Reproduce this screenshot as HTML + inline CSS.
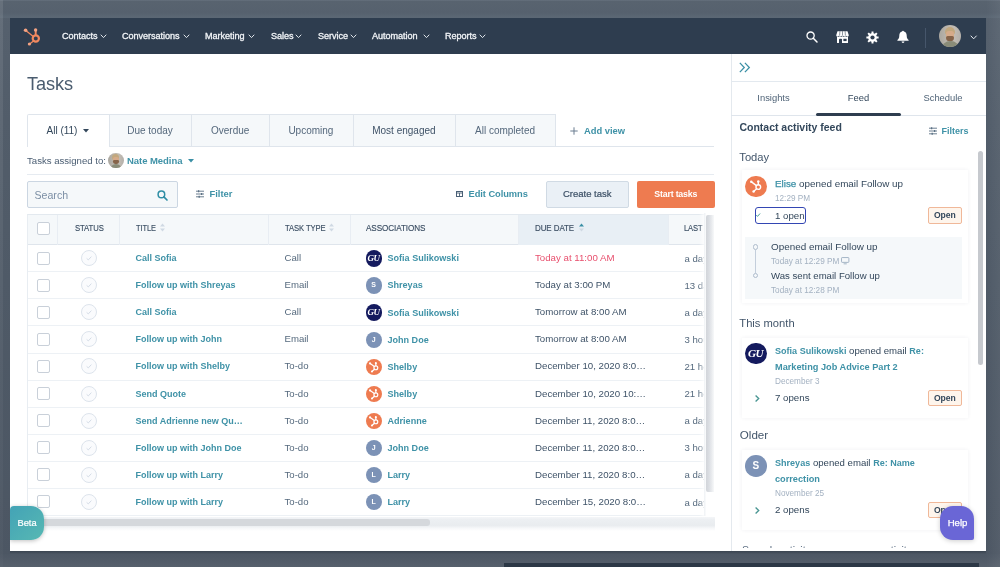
<!DOCTYPE html>
<html>
<head>
<meta charset="utf-8">
<title>Tasks</title>
<style>
*{box-sizing:border-box;margin:0;padding:0}
html,body{width:1000px;height:567px;overflow:hidden}
body{font-family:"Liberation Sans",sans-serif;background:#535e6b;position:relative;color:#33475b;font-size:9.6px}
.t{position:absolute;white-space:nowrap;line-height:14px;height:14px}
.b{font-weight:bold;font-size:9.05px}
.teal{color:#3f92a7}
.gray{color:#a3b1c1}
.sm{font-size:8.2px}
#frame{position:absolute;left:0;top:0;width:1000px;height:567px;background:linear-gradient(180deg,#56616e 0,#525d6a 120px,#4f5a67 280px,#4c5663 567px)}
#rband{position:absolute;left:986px;top:0;width:14px;height:567px;background:linear-gradient(90deg,rgba(255,255,255,0),rgba(255,255,255,.05))}
#topband{position:absolute;left:0;top:0;width:1000px;height:18px;background:linear-gradient(180deg,#66717e 0,#58636f 1.5px,#56616e 13px,#5b6774 17px,#5b6774 18px)}
#botband{position:absolute;left:10px;top:550px;width:976px;height:4px;background:linear-gradient(180deg,#3d4753 0,#3d4753 1.6px,rgba(61,71,83,0) 4px)}
#botband2{position:absolute;left:0;top:553px;width:1000px;height:14px;background:linear-gradient(180deg,rgba(255,255,255,0),rgba(255,255,255,.06))}
#leftstrip{position:absolute;left:0;top:0;width:3.4px;height:567px;background:linear-gradient(180deg,rgba(255,255,255,.09),rgba(255,255,255,.05) 300px,rgba(255,255,255,.02))}
#rightstrip{position:absolute;left:993px;top:0;width:7px;height:567px;background:#525d6a}
#botstrip{position:absolute;left:504.3px;top:562.7px;width:474.5px;height:5px;background:#2c3846}
#app{filter:blur(.45px);position:absolute;left:10px;top:17.5px;width:975.5px;height:533.7px;background:#fff;overflow:hidden}
#nav{position:absolute;left:0;top:0;width:100%;height:36px;background:#2e3d4f}
.nv{color:#f2f5f8;font-size:9.1px;-webkit-text-stroke:.3px #f2f5f8;letter-spacing:-0.05px}
svg{position:absolute;overflow:visible}
.box{position:absolute}
.cb{position:absolute;width:13px;height:13px;border:1px solid #c9d0d9;border-radius:2px;background:#fff}
.st{position:absolute;width:16px;height:16px;border:1px solid #dde4ec;border-radius:50%;background:#fafbfd}
.av{position:absolute;width:16.4px;height:16.4px;border-radius:50%;color:#fff;font-size:7px;font-weight:bold;text-align:center;line-height:16.4px}
.openbtn{position:absolute;width:33.8px;height:16.2px;border:1px solid #f0b899;background:#fef5ec;border-radius:2px;font-size:8.6px;font-weight:bold;text-align:center;line-height:14.8px;color:#33475b}
.card{position:absolute;background:#fff;box-shadow:0 0 4px rgba(45,62,80,.07)}
</style>
</head>
<body>
<div id="frame"></div>
<div id="topband"></div>
<div id="botband"></div>
<div id="botband2"></div>
<div id="rband"></div>
<div id="leftstrip"></div>
<div id="botstrip"></div>
<div id="app">

<div id="nav"></div>
<svg style="left:14px;top:10.0px" width="17" height="18" viewBox="0 0 17 18">
<g fill="none" stroke="#f2895f" stroke-linecap="round">
<circle cx="11.8" cy="10.5" r="3.1" stroke-width="2.2"/>
<path d="M11.7 7V2.2" stroke-width="1.9"/><path d="M9.3 8.4L1.8 2.5" stroke-width="1.3"/><path d="M9.5 12.9L5.6 15.9" stroke-width="1.3"/>
</g>
<g fill="#f4a383"><circle cx="11.6" cy="2" r="1.7"/><circle cx="1.6" cy="2.3" r="1.8"/><circle cx="5.4" cy="16" r="1.6"/></g>
</svg>
<div class="t nv" style="left:52px;top:11.3px;">Contacts</div>
<svg style="left:90.5px;top:17.8px" width="5" height="2.6" viewBox="0 0 5 2.6"><path d="M0 0L2.5 2.6L5 0" fill="none" stroke="#e8edf2" stroke-width="0.95" stroke-linecap="round" stroke-linejoin="round"/></svg>
<div class="t nv" style="left:112px;top:11.3px;">Conversations</div>
<svg style="left:173.5px;top:17.8px" width="5" height="2.6" viewBox="0 0 5 2.6"><path d="M0 0L2.5 2.6L5 0" fill="none" stroke="#e8edf2" stroke-width="0.95" stroke-linecap="round" stroke-linejoin="round"/></svg>
<div class="t nv" style="left:195px;top:11.3px;">Marketing</div>
<svg style="left:239.0px;top:17.8px" width="5" height="2.6" viewBox="0 0 5 2.6"><path d="M0 0L2.5 2.6L5 0" fill="none" stroke="#e8edf2" stroke-width="0.95" stroke-linecap="round" stroke-linejoin="round"/></svg>
<div class="t nv" style="left:261px;top:11.3px;">Sales</div>
<svg style="left:286.0px;top:17.8px" width="5" height="2.6" viewBox="0 0 5 2.6"><path d="M0 0L2.5 2.6L5 0" fill="none" stroke="#e8edf2" stroke-width="0.95" stroke-linecap="round" stroke-linejoin="round"/></svg>
<div class="t nv" style="left:308px;top:11.3px;">Service</div>
<svg style="left:340.5px;top:17.8px" width="5" height="2.6" viewBox="0 0 5 2.6"><path d="M0 0L2.5 2.6L5 0" fill="none" stroke="#e8edf2" stroke-width="0.95" stroke-linecap="round" stroke-linejoin="round"/></svg>
<div class="t nv" style="left:362px;top:11.3px;">Automation</div>
<svg style="left:413.5px;top:17.8px" width="5" height="2.6" viewBox="0 0 5 2.6"><path d="M0 0L2.5 2.6L5 0" fill="none" stroke="#e8edf2" stroke-width="0.95" stroke-linecap="round" stroke-linejoin="round"/></svg>
<div class="t nv" style="left:435px;top:11.3px;">Reports</div>
<svg style="left:470.0px;top:17.8px" width="5" height="2.6" viewBox="0 0 5 2.6"><path d="M0 0L2.5 2.6L5 0" fill="none" stroke="#e8edf2" stroke-width="0.95" stroke-linecap="round" stroke-linejoin="round"/></svg>
<svg style="left:796px;top:13.6px" width="12" height="12" viewBox="0 0 12 12"><circle cx="4.6" cy="4.6" r="3.6" fill="none" stroke="#fff" stroke-width="1.3"/><path d="M7.3 7.3L11 11" stroke="#fff" stroke-width="1.5" stroke-linecap="round"/></svg>
<svg style="left:826px;top:13.5px" width="13" height="12.2" viewBox="0 0 13 12.2"><path d="M1.5 0.2H11.5L12.8 4.2Q12.8 5.7 11.5 5.7Q10.3 5.7 10.3 4.5Q10.3 5.7 9 5.7Q7.8 5.7 7.8 4.5Q7.8 5.7 6.5 5.7Q5.2 5.7 5.2 4.5Q5.2 5.7 4 5.7Q2.7 5.7 2.7 4.5Q2.7 5.7 1.5 5.7Q0.2 5.7 0.2 4.2Z" fill="#fff"/><rect x="1" y="6" width="11" height="6" fill="#fff"/><path d="M3 12.2V8.6Q3 7.8 3.8 7.8H5.2Q6 7.8 6 8.6V12.2Z" fill="#2e3d4f"/><rect x="7.4" y="7.8" width="3.2" height="2.3" fill="#2e3d4f"/><path d="M3.9 0.2L3.6 4.6M6.5 0.2V4.6M9.1 .2L9.4 4.6" stroke="#2e3d4f" stroke-width=".55"/></svg>
<svg style="left:856.3px;top:13.5px" width="13" height="13" viewBox="0 0 13 13"><path d="M12.62 5.53L12.62 7.47L10.78 7.53L10.25 8.80L11.52 10.14L10.14 11.52L8.80 10.25L7.53 10.78L7.47 12.62L5.53 12.62L5.47 10.78L4.20 10.25L2.86 11.52L1.48 10.14L2.75 8.80L2.22 7.53L0.38 7.47L0.38 5.53L2.22 5.47L2.75 4.20L1.48 2.86L2.86 1.48L4.20 2.75L5.47 2.22L5.53 0.38L7.47 0.38L7.53 2.22L8.80 2.75L10.14 1.48L11.52 2.86L10.25 4.20L10.78 5.47Z" fill="#fff"/><circle cx="6.5" cy="6.5" r="2.1" fill="#2e3d4f"/></svg>
<svg style="left:887.3px;top:12.5px" width="12" height="13.8" viewBox="0 0 12 13"><path d="M6 0.3C6.6 0.3 6.9 .7 6.9 1.2C8.9 1.7 9.7 3.3 9.7 5.2C9.7 7.8 10.4 8.6 11.6 9.6V10.4H0.4V9.6C1.6 8.6 2.3 7.8 2.3 5.2C2.3 3.3 3.1 1.7 5.1 1.2C5.1 .7 5.4 .3 6 .3Z" fill="#fff"/><path d="M4.6 11.2H7.4C7.4 12 6.8 12.6 6 12.6C5.2 12.6 4.6 12 4.6 11.2Z" fill="#fff"/></svg>
<div class="box" style="left:915px;top:10.0px;width:1px;height:20px;background:#46566b"></div>
<div class="box" style="left:929px;top:7.3px;width:22.2px;height:22.2px;border-radius:50%;overflow:hidden;background:linear-gradient(90deg,#a9a69f,#bdb7ae 40%,#c2bcb4 70%,#b4b0aa)"><div style="position:absolute;left:5.5px;top:2.2px;width:10.5px;height:8px;border-radius:5px 5px 3px 3px;background:#c2a87e"></div><div style="position:absolute;left:6.6px;top:6px;width:8.6px;height:9px;border-radius:3px 3px 4.5px 4.5px;background:#d6ab8a"></div><div style="position:absolute;left:7.2px;top:11px;width:7.6px;height:5.2px;border-radius:2px 2px 4px 4px;background:#86644a"></div><div style="position:absolute;left:2.5px;top:16.4px;width:17px;height:8px;border-radius:8px 8px 0 0;background:#8a8c78"></div></div>
<svg style="left:961.15px;top:18.5px" width="5.3" height="2.8" viewBox="0 0 5.3 2.8"><path d="M0 0L2.65 2.8L5.3 0" fill="none" stroke="#e8edf2" stroke-width="1.0" stroke-linecap="round" stroke-linejoin="round"/></svg>
<div class="t " style="left:17px;top:53.5px;font-size:18.2px;line-height:26px;height:26px;color:#4a5c6f;letter-spacing:-0.1px">Tasks</div>
<div class="box" style="left:17px;top:128.9px;width:687px;height:1px;background:#dfe5ec"></div>
<div class="box" style="left:17.3px;top:96.3px;width:82.3px;height:33.6px;background:#fff;border:1px solid #dfe5ec;border-bottom:none;border-radius:2px 0 0 0"></div>
<div class="t " style="left:36.5px;top:106.4px;color:#33475b;font-size:10px">All (11)</div>
<svg style="left:73px;top:111.1px" width="6" height="3.5" viewBox="0 0 6 3.5"><path d="M0 0H6L3 3.5Z" fill="#33475b"/></svg>
<div class="box" style="left:98.6px;top:96.3px;width:83.8px;height:32.8px;background:#f5f8fa;border:1px solid #dfe5ec;border-radius:0"></div>
<div class="t" style="left:98.6px;top:106.4px;width:82.8px;text-align:center;color:#55687c;font-size:10px">Due today</div>
<div class="box" style="left:181.4px;top:96.3px;width:78.6px;height:32.8px;background:#f5f8fa;border:1px solid #dfe5ec;border-radius:0"></div>
<div class="t" style="left:181.4px;top:106.4px;width:77.6px;text-align:center;color:#55687c;font-size:10px">Overdue</div>
<div class="box" style="left:259px;top:96.3px;width:84.8px;height:32.8px;background:#f5f8fa;border:1px solid #dfe5ec;border-radius:0"></div>
<div class="t" style="left:259px;top:106.4px;width:83.8px;text-align:center;color:#55687c;font-size:10px">Upcoming</div>
<div class="box" style="left:342.8px;top:96.3px;width:103.2px;height:32.8px;background:#f5f8fa;border:1px solid #dfe5ec;border-radius:0"></div>
<div class="t" style="left:342.8px;top:106.4px;width:102.2px;text-align:center;color:#3f5267;font-size:10px">Most engaged</div>
<div class="box" style="left:445px;top:96.3px;width:101px;height:32.8px;background:#f5f8fa;border:1px solid #dfe5ec;border-radius:0"></div>
<div class="t" style="left:445px;top:106.4px;width:100px;text-align:center;color:#55687c;font-size:10px">All completed</div>
<svg style="left:560px;top:109.0px" width="8" height="8" viewBox="0 0 8 8"><path d="M4 0.3V7.7M0.3 4H7.7" stroke="#6a7c90" stroke-width="1" fill="none"/></svg>
<div class="t b teal" style="left:574px;top:106.2px;font-size:9.35px">Add view</div>
<div class="t " style="left:17px;top:136.0px;color:#4a5d72">Tasks assigned to:</div>
<div class="box" style="left:98.3px;top:135.3px;width:15.4px;height:15.4px;border-radius:50%;overflow:hidden;background:linear-gradient(90deg,#a9a69f,#bdb7ae 40%,#c2bcb4 70%,#b4b0aa)"><div style="position:absolute;left:3.8px;top:1.5px;width:7.3px;height:5.5px;border-radius:3.5px 3.5px 2px 2px;background:#c2a87e"></div><div style="position:absolute;left:4.6px;top:4.2px;width:6px;height:6.2px;border-radius:2px 2px 3px 3px;background:#d6ab8a"></div><div style="position:absolute;left:5px;top:7.6px;width:5.3px;height:3.6px;border-radius:1.5px 1.5px 3px 3px;background:#86644a"></div><div style="position:absolute;left:1.7px;top:11.4px;width:12px;height:6px;border-radius:6px 6px 0 0;background:#8a8c78"></div></div>
<div class="t b teal" style="left:117px;top:136.0px;font-size:9.5px;letter-spacing:-0.05px">Nate Medina</div>
<svg style="left:177.5px;top:141.8px" width="6" height="3.5" viewBox="0 0 6 3.5"><path d="M0 0H6L3 3.5Z" fill="#3a8fa5"/></svg>
<div class="box" style="left:17px;top:156.5px;width:687px;height:1px;background:#e6ebf1"></div>
<div class="box" style="left:17px;top:163.5px;width:150.8px;height:26.5px;background:#f5f8fa;border:1px solid #cbd6e2;border-radius:2px"></div>
<div class="t " style="left:24.5px;top:170.2px;color:#7c8fa5;font-size:10.6px">Search</div>
<svg style="left:146.5px;top:172.0px" width="11" height="11" viewBox="0 0 11 11"><circle cx="4.4" cy="4.4" r="3.3" fill="none" stroke="#2f8ea5" stroke-width="1.5"/><path d="M6.9 6.9L10 10" stroke="#2f8ea5" stroke-width="1.7" stroke-linecap="round"/></svg>
<svg style="left:185.5px;top:172.5px" width="8" height="8" viewBox="0 0 8 8"><path d="M0 1.2H8M0 4H8M0 6.8H8" stroke="#5b7185" stroke-width=".9"/><path d="M2.6 0.2V2.2M5.6 3V5M3.2 5.8V7.8" stroke="#5b7185" stroke-width="1.3"/></svg>
<div class="t b teal" style="left:199.5px;top:169.5px;font-size:9.4px">Filter</div>
<svg style="left:445.5px;top:173.5px" width="7" height="6" viewBox="0 0 7 6"><rect x=".5" y=".5" width="6" height="5" fill="none" stroke="#4a6076" stroke-width="1"/><path d="M.5 2H6.5M3.5 2V5.5" stroke="#4a6076" stroke-width=".9"/></svg>
<div class="t b teal" style="left:458.5px;top:169.5px;font-size:9.3px;letter-spacing:-0.05px">Edit Columns</div>
<div class="box" style="left:536px;top:163.5px;width:82.5px;height:26.5px;background:#eaf0f6;border:1px solid #d0dae4;border-radius:2px"></div>
<div class="t" style="left:536px;top:169.5px;width:82.5px;text-align:center;color:#3c5066;font-size:9.5px;-webkit-text-stroke:.2px #3c5066">Create task</div>
<div class="box" style="left:627px;top:163.5px;width:77.5px;height:26.5px;background:#ee7b50;border-radius:2px"></div>
<div class="t" style="left:627px;top:169.5px;width:77.5px;text-align:center;color:#fff;font-weight:bold;font-size:8.8px;letter-spacing:-0.2px">Start tasks</div>
<div class="box" style="left:17px;top:196.0px;width:677.5px;height:302.5px;overflow:hidden;border-left:1px solid #e8edf2;border-top:1px solid #e3e9ef">
<div class="box" style="left:0;top:0;width:700px;height:30.5px;background:#f5f8fa;border-bottom:1px solid #dfe5ec"></div>
<div class="box" style="left:490.6px;top:0;width:149.19999999999993px;height:30.0px;background:#e8eff5"></div>
<div class="box" style="left:29px;top:0;width:1px;height:30.0px;background:#e8edf3"></div>
<div class="box" style="left:91px;top:0;width:1px;height:30.0px;background:#e8edf3"></div>
<div class="box" style="left:239.5px;top:0;width:1px;height:30.0px;background:#e8edf3"></div>
<div class="box" style="left:321.5px;top:0;width:1px;height:30.0px;background:#e8edf3"></div>
<div class="box" style="left:490px;top:0;width:1px;height:30.0px;background:#e8edf3"></div>
<div class="box" style="left:640px;top:0;width:1px;height:30.0px;background:#e8edf3"></div>
<div class="t " style="left:46.7px;top:6.3px;font-size:9.2px;color:#3b4e63;letter-spacing:-0.1px;-webkit-text-stroke:.15px #3b4e63;transform:scaleX(0.839);transform-origin:0 50%">STATUS</div>
<div class="t " style="left:107.5px;top:6.3px;font-size:9.2px;color:#3b4e63;letter-spacing:-0.1px;-webkit-text-stroke:.15px #3b4e63;transform:scaleX(0.811);transform-origin:0 50%">TITLE</div>
<div class="t " style="left:256.6px;top:6.3px;font-size:9.2px;color:#3b4e63;letter-spacing:-0.1px;-webkit-text-stroke:.15px #3b4e63;transform:scaleX(0.829);transform-origin:0 50%">TASK TYPE</div>
<div class="t " style="left:337.8px;top:6.3px;font-size:9.2px;color:#3b4e63;letter-spacing:-0.1px;-webkit-text-stroke:.15px #3b4e63;transform:scaleX(0.886);transform-origin:0 50%">ASSOCIATIONS</div>
<div class="t " style="left:507.2px;top:6.3px;font-size:9.2px;color:#3b4e63;letter-spacing:-0.1px;-webkit-text-stroke:.15px #3b4e63;transform:scaleX(0.868);transform-origin:0 50%">DUE DATE</div>
<div class="t " style="left:656.2px;top:6.3px;font-size:9.2px;color:#3b4e63;letter-spacing:-0.1px;-webkit-text-stroke:.15px #3b4e63;transform:scaleX(0.823);transform-origin:0 50%">LAST</div>
<svg style="left:131.5px;top:8.8px" width="5" height="9" viewBox="0 0 5 9"><path d="M0 3.4L2.5 0.4L5 3.4Z" fill="#d0d9e3"/><path d="M0 5.6L2.5 8.6L5 5.6Z" fill="#d0d9e3"/></svg>
<svg style="left:300.6px;top:8.8px" width="5" height="9" viewBox="0 0 5 9"><path d="M0 3.4L2.5 0.4L5 3.4Z" fill="#d0d9e3"/><path d="M0 5.6L2.5 8.6L5 5.6Z" fill="#d0d9e3"/></svg>
<svg style="left:550.5px;top:8.8px" width="5" height="9" viewBox="0 0 5 9"><path d="M0 3.4L2.5 0.4L5 3.4Z" fill="#3a8fa5"/><path d="M0 5.6L2.5 8.6L5 5.6Z" fill="#d0d9e3"/></svg>
<div class="cb" style="left:9px;top:7.5px"></div>
<div class="box" style="left:0;top:56.7px;width:700px;height:1px;background:#edf1f5"></div>
<div class="cb" style="left:9px;top:37.0px"></div>
<div class="st" style="left:52.5px;top:35.5px"><svg style="left:4.2px;top:5px" width="6" height="4.5" viewBox="0 0 6 4.5"><path d="M0.6 2.3L2.3 3.9L5.4 0.6" fill="none" stroke="#cfd8e3" stroke-width=".9"/></svg></div>
<div class="t b teal" style="left:107.5px;top:36.5px;font-size:9.0px">Call Sofia</div>
<div class="t " style="left:256.5px;top:36.5px;color:#566a7e">Call</div>
<div class="av" style="left:337.5px;top:35.7px;background:#141a5e"><span style="font-family:'Liberation Serif',serif;font-style:italic;font-size:9px;letter-spacing:-0.5px;position:relative;left:-0.3px">GU</span></div>
<div class="t b teal" style="left:359.5px;top:36.8px;font-size:9.05px">Sofia Sulikowski</div>
<div class="t " style="left:507px;top:36.5px;color:#e8506e;font-size:9.7px">Today at 11:00 AM</div>
<div class="t " style="left:656.5px;top:37.1px;color:#566a7e">a day</div>
<div class="box" style="left:0;top:83.8px;width:700px;height:1px;background:#edf1f5"></div>
<div class="cb" style="left:9px;top:64.1px"></div>
<div class="st" style="left:52.5px;top:62.6px"><svg style="left:4.2px;top:5px" width="6" height="4.5" viewBox="0 0 6 4.5"><path d="M0.6 2.3L2.3 3.9L5.4 0.6" fill="none" stroke="#cfd8e3" stroke-width=".9"/></svg></div>
<div class="t b teal" style="left:107.5px;top:63.6px;font-size:9.0px">Follow up with Shreyas</div>
<div class="t " style="left:256.5px;top:63.6px;color:#566a7e">Email</div>
<div class="av" style="left:337.5px;top:62.8px;background:#7c92b6">S</div>
<div class="t b teal" style="left:359.5px;top:63.9px;font-size:9.05px">Shreyas</div>
<div class="t " style="left:507px;top:63.6px;color:#3f5368;font-size:9.7px">Today at 3:00 PM</div>
<div class="t " style="left:656.5px;top:64.2px;color:#566a7e">13 days</div>
<div class="box" style="left:0;top:110.9px;width:700px;height:1px;background:#edf1f5"></div>
<div class="cb" style="left:9px;top:91.2px"></div>
<div class="st" style="left:52.5px;top:89.7px"><svg style="left:4.2px;top:5px" width="6" height="4.5" viewBox="0 0 6 4.5"><path d="M0.6 2.3L2.3 3.9L5.4 0.6" fill="none" stroke="#cfd8e3" stroke-width=".9"/></svg></div>
<div class="t b teal" style="left:107.5px;top:90.7px;font-size:9.0px">Call Sofia</div>
<div class="t " style="left:256.5px;top:90.7px;color:#566a7e">Call</div>
<div class="av" style="left:337.5px;top:89.9px;background:#141a5e"><span style="font-family:'Liberation Serif',serif;font-style:italic;font-size:9px;letter-spacing:-0.5px;position:relative;left:-0.3px">GU</span></div>
<div class="t b teal" style="left:359.5px;top:91.0px;font-size:9.05px">Sofia Sulikowski</div>
<div class="t " style="left:507px;top:90.7px;color:#3f5368;font-size:9.7px">Tomorrow at 8:00 AM</div>
<div class="t " style="left:656.5px;top:91.3px;color:#566a7e">a day</div>
<div class="box" style="left:0;top:138.0px;width:700px;height:1px;background:#edf1f5"></div>
<div class="cb" style="left:9px;top:118.3px"></div>
<div class="st" style="left:52.5px;top:116.8px"><svg style="left:4.2px;top:5px" width="6" height="4.5" viewBox="0 0 6 4.5"><path d="M0.6 2.3L2.3 3.9L5.4 0.6" fill="none" stroke="#cfd8e3" stroke-width=".9"/></svg></div>
<div class="t b teal" style="left:107.5px;top:117.8px;font-size:9.0px">Follow up with John</div>
<div class="t " style="left:256.5px;top:117.8px;color:#566a7e">Email</div>
<div class="av" style="left:337.5px;top:117.0px;background:#7c92b6">J</div>
<div class="t b teal" style="left:359.5px;top:118.1px;font-size:9.05px">John Doe</div>
<div class="t " style="left:507px;top:117.8px;color:#3f5368;font-size:9.7px">Tomorrow at 8:00 AM</div>
<div class="t " style="left:656.5px;top:118.4px;color:#566a7e">3 hours</div>
<div class="box" style="left:0;top:165.1px;width:700px;height:1px;background:#edf1f5"></div>
<div class="cb" style="left:9px;top:145.4px"></div>
<div class="st" style="left:52.5px;top:143.9px"><svg style="left:4.2px;top:5px" width="6" height="4.5" viewBox="0 0 6 4.5"><path d="M0.6 2.3L2.3 3.9L5.4 0.6" fill="none" stroke="#cfd8e3" stroke-width=".9"/></svg></div>
<div class="t b teal" style="left:107.5px;top:144.9px;font-size:9.0px">Follow up with Shelby</div>
<div class="t " style="left:256.5px;top:144.9px;color:#566a7e">To-do</div>
<div class="av" style="left:337.5px;top:144.1px;background:#ee7b50"><svg style="left:3.4px;top:3px" width="10.3" height="10.9" viewBox="0 0 17 18"><g fill="none" stroke="#fff" stroke-width="2" stroke-linecap="round"><circle cx="11.3" cy="9.6" r="3.2"/><path d="M11.3 6.3V2.2M8.7 7.6L2 2.6M9 12L5.3 15.4"/></g><g fill="#fff"><circle cx="11.3" cy="1.9" r="1.7"/><circle cx="1.7" cy="2.3" r="1.7"/><circle cx="4.9" cy="15.8" r="1.7"/></g></svg></div>
<div class="t b teal" style="left:359.5px;top:145.2px;font-size:9.05px">Shelby</div>
<div class="t " style="left:507px;top:144.9px;color:#3f5368;font-size:9.7px">December 10, 2020 8:0&hellip;</div>
<div class="t " style="left:656.5px;top:145.5px;color:#566a7e">21 hours</div>
<div class="box" style="left:0;top:192.2px;width:700px;height:1px;background:#edf1f5"></div>
<div class="cb" style="left:9px;top:172.5px"></div>
<div class="st" style="left:52.5px;top:171.0px"><svg style="left:4.2px;top:5px" width="6" height="4.5" viewBox="0 0 6 4.5"><path d="M0.6 2.3L2.3 3.9L5.4 0.6" fill="none" stroke="#cfd8e3" stroke-width=".9"/></svg></div>
<div class="t b teal" style="left:107.5px;top:172.0px;font-size:9.0px">Send Quote</div>
<div class="t " style="left:256.5px;top:172.0px;color:#566a7e">To-do</div>
<div class="av" style="left:337.5px;top:171.2px;background:#ee7b50"><svg style="left:3.4px;top:3px" width="10.3" height="10.9" viewBox="0 0 17 18"><g fill="none" stroke="#fff" stroke-width="2" stroke-linecap="round"><circle cx="11.3" cy="9.6" r="3.2"/><path d="M11.3 6.3V2.2M8.7 7.6L2 2.6M9 12L5.3 15.4"/></g><g fill="#fff"><circle cx="11.3" cy="1.9" r="1.7"/><circle cx="1.7" cy="2.3" r="1.7"/><circle cx="4.9" cy="15.8" r="1.7"/></g></svg></div>
<div class="t b teal" style="left:359.5px;top:172.3px;font-size:9.05px">Shelby</div>
<div class="t " style="left:507px;top:172.0px;color:#3f5368;font-size:9.7px">December 10, 2020 10:&hellip;</div>
<div class="t " style="left:656.5px;top:172.6px;color:#566a7e">21 hours</div>
<div class="box" style="left:0;top:219.3px;width:700px;height:1px;background:#edf1f5"></div>
<div class="cb" style="left:9px;top:199.6px"></div>
<div class="st" style="left:52.5px;top:198.1px"><svg style="left:4.2px;top:5px" width="6" height="4.5" viewBox="0 0 6 4.5"><path d="M0.6 2.3L2.3 3.9L5.4 0.6" fill="none" stroke="#cfd8e3" stroke-width=".9"/></svg></div>
<div class="t b teal" style="left:107.5px;top:199.1px;font-size:9.0px">Send Adrienne new Qu&hellip;</div>
<div class="t " style="left:256.5px;top:199.1px;color:#566a7e">To-do</div>
<div class="av" style="left:337.5px;top:198.3px;background:#ee7b50"><svg style="left:3.4px;top:3px" width="10.3" height="10.9" viewBox="0 0 17 18"><g fill="none" stroke="#fff" stroke-width="2" stroke-linecap="round"><circle cx="11.3" cy="9.6" r="3.2"/><path d="M11.3 6.3V2.2M8.7 7.6L2 2.6M9 12L5.3 15.4"/></g><g fill="#fff"><circle cx="11.3" cy="1.9" r="1.7"/><circle cx="1.7" cy="2.3" r="1.7"/><circle cx="4.9" cy="15.8" r="1.7"/></g></svg></div>
<div class="t b teal" style="left:359.5px;top:199.4px;font-size:9.05px">Adrienne</div>
<div class="t " style="left:507px;top:199.1px;color:#3f5368;font-size:9.7px">December 11, 2020 8:0&hellip;</div>
<div class="t " style="left:656.5px;top:199.7px;color:#566a7e">a day</div>
<div class="box" style="left:0;top:246.4px;width:700px;height:1px;background:#edf1f5"></div>
<div class="cb" style="left:9px;top:226.7px"></div>
<div class="st" style="left:52.5px;top:225.2px"><svg style="left:4.2px;top:5px" width="6" height="4.5" viewBox="0 0 6 4.5"><path d="M0.6 2.3L2.3 3.9L5.4 0.6" fill="none" stroke="#cfd8e3" stroke-width=".9"/></svg></div>
<div class="t b teal" style="left:107.5px;top:226.2px;font-size:9.0px">Follow up with John Doe</div>
<div class="t " style="left:256.5px;top:226.2px;color:#566a7e">To-do</div>
<div class="av" style="left:337.5px;top:225.4px;background:#7c92b6">J</div>
<div class="t b teal" style="left:359.5px;top:226.5px;font-size:9.05px">John Doe</div>
<div class="t " style="left:507px;top:226.2px;color:#3f5368;font-size:9.7px">December 11, 2020 8:0&hellip;</div>
<div class="t " style="left:656.5px;top:226.8px;color:#566a7e">3 hours</div>
<div class="box" style="left:0;top:273.5px;width:700px;height:1px;background:#edf1f5"></div>
<div class="cb" style="left:9px;top:253.8px"></div>
<div class="st" style="left:52.5px;top:252.3px"><svg style="left:4.2px;top:5px" width="6" height="4.5" viewBox="0 0 6 4.5"><path d="M0.6 2.3L2.3 3.9L5.4 0.6" fill="none" stroke="#cfd8e3" stroke-width=".9"/></svg></div>
<div class="t b teal" style="left:107.5px;top:253.3px;font-size:9.0px">Follow up with Larry</div>
<div class="t " style="left:256.5px;top:253.3px;color:#566a7e">To-do</div>
<div class="av" style="left:337.5px;top:252.5px;background:#7c92b6">L</div>
<div class="t b teal" style="left:359.5px;top:253.6px;font-size:9.05px">Larry</div>
<div class="t " style="left:507px;top:253.3px;color:#3f5368;font-size:9.7px">December 11, 2020 8:0&hellip;</div>
<div class="t " style="left:656.5px;top:253.9px;color:#566a7e">a day</div>
<div class="box" style="left:0;top:300.6px;width:700px;height:1px;background:#edf1f5"></div>
<div class="cb" style="left:9px;top:280.9px"></div>
<div class="st" style="left:52.5px;top:279.4px"><svg style="left:4.2px;top:5px" width="6" height="4.5" viewBox="0 0 6 4.5"><path d="M0.6 2.3L2.3 3.9L5.4 0.6" fill="none" stroke="#cfd8e3" stroke-width=".9"/></svg></div>
<div class="t b teal" style="left:107.5px;top:280.4px;font-size:9.0px">Follow up with Larry</div>
<div class="t " style="left:256.5px;top:280.4px;color:#566a7e">To-do</div>
<div class="av" style="left:337.5px;top:279.6px;background:#7c92b6">L</div>
<div class="t b teal" style="left:359.5px;top:280.7px;font-size:9.05px">Larry</div>
<div class="t " style="left:507px;top:280.4px;color:#3f5368;font-size:9.7px">December 15, 2020 8:0&hellip;</div>
<div class="t " style="left:656.5px;top:281.0px;color:#566a7e">a day</div>
</div>
<div class="box" style="left:689px;top:195.5px;width:6px;height:303px;background:linear-gradient(90deg,rgba(255,255,255,0),rgba(255,255,255,.85))"></div>
<div class="box" style="left:694px;top:195.5px;width:10.5px;height:303px;background:linear-gradient(90deg,#eef1f4,#fff 2.5px)"></div>
<div class="box" style="left:696.2px;top:197.0px;width:8px;height:277px;background:linear-gradient(90deg,#d2d5da 0,#dadde2 35%,#e9ebee 70%,#f8f9fa 100%);border-radius:2px 0 0 2px"></div>
<div class="box" style="left:17px;top:499.0px;width:687.5px;height:14px;background:linear-gradient(180deg,#f4f6f8 0,#eceff2 20%,#e9ecef 60%,#f6f7f9 80%,#fff 100%)"></div>
<div class="box" style="left:18px;top:501.8px;width:402px;height:6.5px;background:#d5d8dc;border-radius:3px"></div>
<div class="box" style="left:0px;top:488.7px;width:33.5px;height:33.5px;background:linear-gradient(135deg,#43a3b6,#57b8b3);border-radius:4px 13px 13px 0;box-shadow:0 1px 4px rgba(0,0,0,.25)"></div>
<div class="t" style="left:0px;top:498.8px;width:34px;text-align:center;color:#fff;font-size:9.3px;-webkit-text-stroke:.2px #fff">Beta</div>
<div class="box" style="left:720.6px;top:36.5px;width:1px;height:500px;background:#e4e9ee"></div>
<svg style="left:729.2px;top:44.9px" width="11.6" height="11" viewBox="0 0 11 10"><path d="M0.8 0.6L5 5L0.8 9.4M5.6 0.6L9.8 5L5.6 9.4" fill="none" stroke="#3a8fa5" stroke-width="1.2"/></svg>
<div class="box" style="left:720.6px;top:63.5px;width:260px;height:1px;background:#e3e9ef"></div>
<div class="t" style="left:723.5px;top:73.0px;width:80px;text-align:center;color:#4f6377;font-size:9.4px">Insights</div>
<div class="t" style="left:808.5px;top:73.0px;width:80px;text-align:center;color:#33475b;font-size:9.4px">Feed</div>
<div class="t" style="left:893px;top:73.0px;width:80px;text-align:center;color:#4f6377;font-size:9.4px">Schedule</div>
<div class="box" style="left:720.6px;top:97.1px;width:260px;height:1px;background:#dfe5ec"></div>
<div class="box" style="left:806.3px;top:95.4px;width:84.3px;height:3.3px;background:#2e3d4f;border-radius:1.5px"></div>
<div class="t b" style="left:729.5px;top:102.4px;font-size:10.5px;letter-spacing:-0.02px;color:#33475b">Contact activity feed</div>
<svg style="left:918.5px;top:109.0px" width="8" height="8" viewBox="0 0 8 8"><path d="M0 1.2H8M0 4H8M0 6.8H8" stroke="#5b7185" stroke-width=".9"/><path d="M2.6 0.2V2.2M5.6 3V5M3.2 5.8V7.8" stroke="#5b7185" stroke-width="1.3"/></svg>
<div class="t b teal" style="left:931.5px;top:106.5px;font-size:9px">Filters</div>
<div class="box" style="left:967.8px;top:133.0px;width:5.2px;height:214px;background:#c6c9ce;border-radius:3px"></div>
<div class="t " style="left:729.3px;top:132.0px;font-size:11.2px;color:#43566b">Today</div>
<div class="card" style="left:732px;top:152.5px;width:226px;height:133px"></div>
<div class="av" style="left:735px;top:158.3px;width:21.6px;height:21.6px;background:#ee7b50"><svg style="left:4.8px;top:4.2px" width="12.5" height="13.2" viewBox="0 0 17 18"><g fill="none" stroke="#fff" stroke-width="1.9" stroke-linecap="round"><circle cx="11.3" cy="9.6" r="3.2"/><path d="M11.3 6.3V2.2M8.7 7.6L2 2.6M9 12L5.3 15.4"/></g><g fill="#fff"><circle cx="11.3" cy="1.9" r="1.7"/><circle cx="1.7" cy="2.3" r="1.7"/><circle cx="4.9" cy="15.8" r="1.7"/></g></svg></div>
<div class="t " style="left:765px;top:159.3px;font-size:9.85px"><span class="teal" style="-webkit-text-stroke:.25px #3a8fa5">Elise</span> opened email Follow up</div>
<div class="t gray sm" style="left:765px;top:174.3px;">12:29 PM</div>
<div class="box" style="left:745px;top:189.5px;width:50.5px;height:16.8px;border:1.5px solid #3346b3;border-radius:3px"></div>
<svg style="left:746.2px;top:195.5px" width="4.4" height="4" viewBox="0 0 4.4 4"><path d="M0.3 2.1L1.5 3.4L4.1 0.5" fill="none" stroke="#3f9a94" stroke-width=".95"/></svg>
<div class="t " style="left:765px;top:191.1px;font-size:9.7px">1 open</div>
<div class="openbtn" style="left:918px;top:189.9px">Open</div>
<div class="box" style="left:735.3px;top:219.0px;width:217px;height:62.5px;background:#f5f8fa"></div>
<div class="box" style="left:745.2px;top:232.0px;width:1px;height:23.5px;background:#c3cedb"></div>
<div class="box" style="left:742.9px;top:226.8px;width:5.6px;height:5.6px;border:1px solid #aebccc;border-radius:50%;background:#f5f8fa"></div>
<div class="box" style="left:742.9px;top:255.3px;width:5.6px;height:5.6px;border:1px solid #aebccc;border-radius:50%;background:#f5f8fa"></div>
<div class="t " style="left:761px;top:222.8px;font-size:9.9px">Opened email Follow up</div>
<div class="t gray sm" style="left:761px;top:237.5px;">Today at 12:29 PM</div>
<svg style="left:831px;top:239.8px" width="8.4" height="7.4" viewBox="0 0 8 7"><rect x=".5" y=".5" width="7" height="4.6" rx=".6" fill="none" stroke="#9fb0c2" stroke-width=".9"/><path d="M2.5 6.5H5.5" stroke="#9fb0c2" stroke-width=".9"/></svg>
<div class="t " style="left:761px;top:251.8px;font-size:9.6px">Was sent email Follow up</div>
<div class="t gray sm" style="left:761px;top:266.0px;">Today at 12:28 PM</div>
<div class="t " style="left:729.3px;top:298.7px;font-size:11.2px;color:#43566b">This month</div>
<div class="card" style="left:732px;top:320.5px;width:226px;height:80px"></div>
<div class="av" style="left:735px;top:325.1px;width:21.6px;height:21.6px;line-height:21.6px;background:#141a5e"><span style="font-family:'Liberation Serif',serif;font-style:italic;font-size:11.2px;letter-spacing:-0.6px;position:relative;left:-0.4px">GU</span></div>
<div class="t " style="left:765px;top:326.0px;font-size:9.6px"><span class="b teal">Sofia Sulikowski</span> opened email <span class="b teal">Re:</span></div>
<div class="t b teal" style="left:765px;top:342.0px;font-size:9.2px">Marketing Job Advice Part 2</div>
<div class="t gray sm" style="left:765px;top:357.5px;">December 3</div>
<svg style="left:745px;top:377.5px" width="4.4" height="7" viewBox="0 0 4 6.5"><path d="M0.5 0.5L3.4 3.25L0.5 6" fill="none" stroke="#4a9693" stroke-width="1.25"/></svg>
<div class="t " style="left:765px;top:373.8px;font-size:9.7px">7 opens</div>
<div class="openbtn" style="left:918px;top:372.3px">Open</div>
<div class="t " style="left:729.8px;top:410.7px;font-size:11.6px;color:#43566b">Older</div>
<div class="card" style="left:732px;top:432.5px;width:226px;height:80px"></div>
<div class="av" style="left:735px;top:437.5px;width:21.6px;height:21.6px;line-height:21.6px;font-size:10px;background:#7c92b6">S</div>
<div class="t " style="left:765px;top:438.5px;font-size:9.6px"><span class="b teal">Shreyas</span> opened email <span class="b teal">Re: Name</span></div>
<div class="t b teal" style="left:765px;top:454.9px;font-size:9.2px">correction</div>
<div class="t gray sm" style="left:765px;top:469.5px;">November 25</div>
<svg style="left:745px;top:489.5px" width="4.4" height="7" viewBox="0 0 4 6.5"><path d="M0.5 0.5L3.4 3.25L0.5 6" fill="none" stroke="#4a9693" stroke-width="1.25"/></svg>
<div class="t " style="left:765px;top:485.8px;font-size:9.7px">2 opens</div>
<div class="openbtn" style="left:918px;top:484.8px">Open</div>
<div class="box" style="left:730px;top:525.5px;width:190px;height:4.6px;overflow:hidden"><div class="t" style="left:2px;top:-0.4px;font-size:10.6px;color:#5a6c80">Search activity: <span class="b teal">Page</span> &nbsp; &nbsp; open activity</div></div>
<div class="box" style="left:930.2px;top:488.0px;width:34px;height:34.8px;background:#6a66d6;border-radius:13px 13px 2px 13px;box-shadow:0 1px 5px rgba(0,0,0,.2)"></div>
<div class="t" style="left:930.5px;top:498.5px;width:34px;text-align:center;color:#fff;font-size:9.6px;-webkit-text-stroke:.25px #fff">Help</div>
</div>
</body>
</html>
